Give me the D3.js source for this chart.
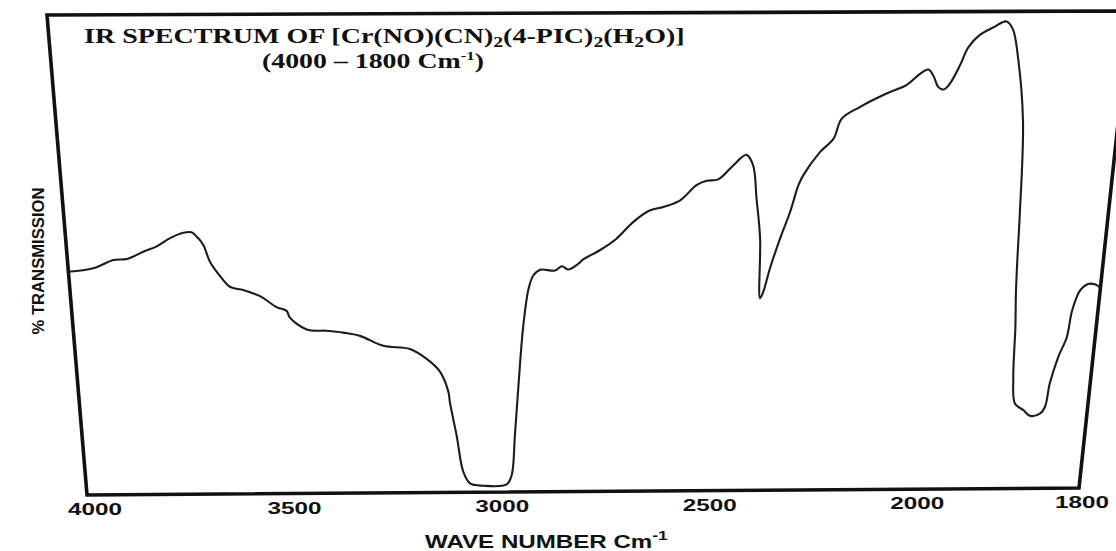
<!DOCTYPE html>
<html>
<head>
<meta charset="utf-8">
<script src="https://cdn.jsdelivr.net/npm/d3@7/dist/d3.min.js"></script>
<style>
  html, body { margin: 0; padding: 0; background: #fff; }
  svg { display: block; }
</style>
</head>
<body>
<div id="chart"></div>
<script>
// IR spectrum, 4000-1800 cm-1, scanned frame is skewed so we map (u,v) onto a quad

// wavenumber (cm-1) and % transmission
const waveNumber = [
  4000, 3942, 3894, 3863, 3824, 3792, 3760, 3729, 3710, 3699, 3685, 3672, 3650, 3629,
  3598, 3560, 3523, 3500, 3493, 3455, 3408, 3370, 3331, 3277, 3215, 3176, 3145, 3126,
  3123, 3108, 3093, 3077, 3045, 2989, 2977, 2969, 2957, 2949, 2937, 2926, 2910, 2876,
  2860, 2845, 2822, 2811, 2773, 2735, 2697, 2659, 2629, 2592, 2555, 2532, 2506, 2473,
  2444, 2428, 2417, 2405, 2399, 2392, 2379, 2359, 2339, 2323, 2313, 2278, 2249, 2233,
  2194, 2136, 2092, 2064, 2046, 2034, 2021, 2009, 1998, 1988, 1980, 1968, 1953, 1939,
  1931, 1922, 1910, 1904, 1902, 1900, 1897, 1894, 1889, 1878, 1869, 1857, 1852, 1849,
  1842, 1834, 1831, 1824, 1815, 1807, 1800
];
const transmission = [
  46.5, 47.2, 48.9, 49.1, 50.6, 51.7, 53.4, 54.5, 54.6, 53.7, 52.0, 48.5, 45.4, 43.2,
  42.5, 41.2, 38.9, 38.1, 36.7, 34.2, 33.9, 33.5, 32.8, 30.7, 30.0, 27.9, 25.2, 21.0,
  18.9, 11.9, 4.3, 1.85, 1.35, 1.6, 3.5, 11.9, 26.5, 34.8, 42.4, 45.2, 46.4, 46.2,
  47.1, 46.4, 47.6, 48.5, 50.4, 52.8, 56.3, 58.7, 59.4, 60.7, 63.9, 64.8, 65.1, 68.0,
  70.2, 68.0, 61.0, 52.7, 40.2, 41.6, 46.5, 52.7, 58.2, 63.8, 65.9, 70.7, 73.5, 77.7,
  80.1, 82.9, 84.7, 87.0, 87.9, 86.6, 84.2, 83.7, 84.9, 88.7, 92.5, 95.1, 96.7, 97.9,
  96.3, 90.1, 76.9, 57.4, 47.8, 40.7, 33.8, 23.4, 17.8, 16.4, 15.2, 15.7, 17.1, 22.0,
  27.5, 31.7, 37.2, 41.4, 42.8, 42.7, 42.0
];
const tickValues = [4000, 3500, 3000, 2500, 2000, 1800];

const W = 1116, H = 551;
// frame corners as scanned: top-left, top-right, bottom-right, bottom-left
const TL = [47, 15], TR = [1130, 11], BR = [1079, 488], BL = [87, 495];

// the chart paper doubles its scale below 2000 cm-1
const x = d3.scaleLinear().domain([4000, 2000, 1800]).range([0, 0.837, 1]);
const y = d3.scaleLinear().domain([0, 100]).range([1, 0]);

function project(u, v) {
  const a = (1 - u) * (1 - v), b = u * (1 - v), c = u * v, d = (1 - u) * v;
  return [
    a * TL[0] + b * TR[0] + c * BR[0] + d * BL[0],
    a * TL[1] + b * TR[1] + c * BR[1] + d * BL[1]
  ];
}

const svg = d3.select('#chart').append('svg')
  .attr('width', W).attr('height', H)
  .attr('viewBox', `0 0 ${W} ${H}`);

svg.append('rect').attr('width', W).attr('height', H).attr('fill', '#fff');

// stretch a text node horizontally so it spans a given width
function fit(sel, x0, yBase, width) {
  const w = sel.node().getComputedTextLength();
  sel.attr('transform', `translate(${x0},${yBase}) scale(${width / w},1)`);
}

// frame
svg.append('path')
  .attr('d', 'M' + [TL, TR, BR, BL].map(p => p.join(',')).join('L') + 'Z')
  .attr('fill', 'none')
  .attr('stroke', '#111')
  .attr('stroke-width', 3.6)
  .attr('stroke-linejoin', 'miter');

// spectrum trace
const pts = waveNumber.map((wn, i) => project(x(wn), y(transmission[i])));
svg.append('path')
  .datum(pts)
  .attr('d', d3.line().curve(d3.curveCatmullRom.alpha(0.5)))
  .attr('fill', 'none')
  .attr('stroke', '#1c1c1c')
  .attr('stroke-width', 2.1)
  .attr('stroke-linejoin', 'round');

// tick labels under the bottom edge
svg.selectAll('text.tick')
  .data(tickValues)
  .join('text')
  .attr('class', 'tick')
  .attr('x', d => project(x(d), 1)[0] + (d === 4000 ? 8 : d === 1800 ? 3 : 0))
  .attr('y', d => project(x(d), 1)[1] + 20)
  .attr('text-anchor', 'middle')
  .attr('font-family', '"Liberation Sans", Arial, sans-serif')
  .attr('font-weight', 'bold')
  .attr('font-size', 17)
  .attr('fill', '#111')
  .attr('textLength', 54)
  .attr('lengthAdjust', 'spacingAndGlyphs')
  .text(d => d);

// x axis title
const xt = svg.append('text')
  .attr('font-family', '"Liberation Sans", Arial, sans-serif')
  .attr('font-weight', 'bold')
  .attr('font-size', 18)
  .attr('fill', '#111');
xt.append('tspan').text('WAVE NUMBER Cm');
xt.append('tspan').attr('font-size', 13).attr('dy', -8).text('-1');
fit(xt, 425, 548, 243);

// y axis title
const yt = svg.append('text')
  .attr('font-family', '"Liberation Sans", Arial, sans-serif')
  .attr('font-weight', 'bold')
  .attr('font-size', 16)
  .attr('fill', '#111')
  .attr('text-anchor', 'middle')
  .attr('transform', 'translate(44,261) rotate(-90)')
  .attr('textLength', 147)
  .attr('lengthAdjust', 'spacingAndGlyphs')
  .text('% TRANSMISSION');

// title lines
const serif = '"Liberation Serif", "Times New Roman", serif';
const t1 = svg.append('text')
  .attr('font-family', serif).attr('font-weight', 'bold')
  .attr('font-size', 20).attr('fill', '#111');
const sub = (el, s) => { el.append('tspan').attr('font-size', 14).attr('dy', 4).text(s); };
const txt = (el, s) => { el.append('tspan').attr('dy', el.selectAll('tspan').size() ? -4 : 0).text(s); };
t1.append('tspan').text('IR SPECTRUM OF [Cr(NO)(CN)');
sub(t1, '2');
t1.append('tspan').attr('dy', -4).text('(4-PIC)');
sub(t1, '2');
t1.append('tspan').attr('dy', -4).text('(H');
sub(t1, '2');
t1.append('tspan').attr('dy', -4).text('O)]');
fit(t1, 84, 43, 601);

const t2 = svg.append('text')
  .attr('font-family', serif).attr('font-weight', 'bold')
  .attr('font-size', 20).attr('fill', '#111');
t2.append('tspan').text('(4000 \u2013 1800 Cm');
t2.append('tspan').attr('font-size', 12).attr('dy', -8).text('-1');
t2.append('tspan').attr('dy', 8).text(')');
fit(t2, 262, 68, 222);
</script>
</body>
</html>
